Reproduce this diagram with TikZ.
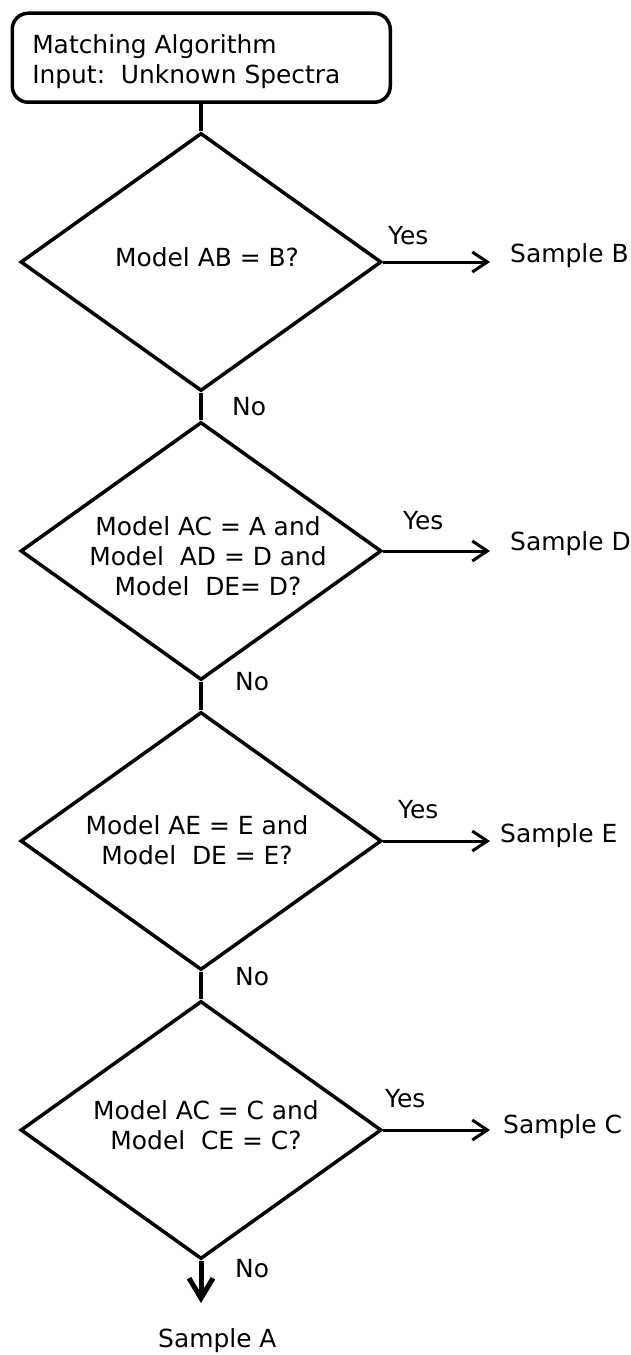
\documentclass[tikz,border=0pt]{standalone}
\usepackage{fontspec}
\setmainfont{DejaVu Sans}
\usetikzlibrary{shapes.geometric,arrows.meta}
% #1 = horizontal shift, #2 = vertical raise, #3 = lines
\newcommand{\dtext}[3]{\smash{\raisebox{#2}{\makebox[0pt]{\hspace*{#1}\hspace*{#1}\begin{tabular}{@{}c@{}}#3\end{tabular}}}}}
\begin{document}
\begin{tikzpicture}[x=1bp,y=-1bp,
  every node/.style={font=\fontsize{25}{30}\selectfont},
  startbox/.style={draw,line width=3.5bp,rounded corners=16bp,minimum height=89bp,
    anchor=north west,inner xsep=20bp,inner ysep=0bp},
  decision/.style={draw,diamond,line width=3.5bp,minimum width=361bp,minimum height=258bp,
    inner sep=0pt},
  flow/.style={line width=3.5bp},
  yesarrow/.style={line width=3bp,-{Straight Barb[length=15bp,width=20bp]}},
  endarrow/.style={line width=5bp,-{Straight Barb[length=20bp,width=24bp]}},
  lbl/.style={anchor=base west,inner sep=0pt}]
\useasboundingbox (0,0) rectangle (631,1355);

\node[startbox] (start) at (10.5,11.5)
  {\makebox[338bp][l]{\raisebox{-10.75bp}[0pt][0pt]{\begin{tabular}{@{}l@{}}Matching Algorithm\\Input:\ \ Unknown Spectra\end{tabular}}}};

\node[decision] (d1) at (201,262) {\dtext{6bp}{-5bp}{Model AB = B?}};
\node[decision] (d2) at (201,551) {\dtext{7bp}{-15bp}{Model AC = A and\\Model\ \ AD = D and\\Model\ \ DE= D?}};
\node[decision] (d3) at (201,841) {\dtext{-4bp}{-9bp}{Model AE = E and\\Model\ \ DE = E?}};
\node[decision] (d4) at (201,1130) {\dtext{5bp}{-5bp}{Model AC = C and\\Model\ \ CE = C?}};

\coordinate (e1) at (490,262);
\coordinate (e2) at (490,551);
\coordinate (e3) at (490,841);
\coordinate (e4) at (490,1130);
\coordinate (eA) at (201,1303);

\node[lbl] (sB) at (510,263) {Sample B};
\node[lbl] (sD) at (510,550) {Sample D};
\node[lbl] (sE) at (500,842) {Sample E};
\node[lbl] (sC) at (503,1133) {Sample C};
\node[lbl] (sA) at (158,1347) {Sample A};

\node[lbl] (y1) at (388,245) {Yes};
\node[lbl] (y2) at (403,529) {Yes};
\node[lbl] (y3) at (398,818) {Yes};
\node[lbl] (y4) at (385,1107) {Yes};

\node[lbl] (n1) at (232,415) {No};
\node[lbl] (n2) at (235,690) {No};
\node[lbl] (n3) at (235,985) {No};
\node[lbl] (n4) at (235,1277) {No};

\draw[flow] (d1.north |- start.south) -- (d1.north);
\draw[flow] (d1.south) -- (d2.north);
\draw[flow] (d2.south) -- (d3.north);
\draw[flow] (d3.south) -- (d4.north);

\draw[yesarrow] (d1.east) -- (e1);
\draw[yesarrow] (d2.east) -- (e2);
\draw[yesarrow] (d3.east) -- (e3);
\draw[yesarrow] (d4.east) -- (e4);

\draw[endarrow] (d4.south) -- (eA);
\end{tikzpicture}
\end{document}
